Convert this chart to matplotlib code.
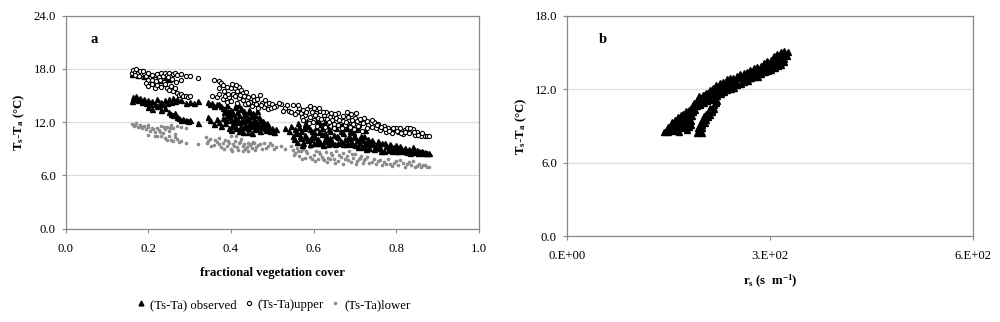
import matplotlib
matplotlib.use('Agg')
import matplotlib.pyplot as plt

plt.rcParams['font.family'] = ['Liberation Serif', 'DejaVu Serif']
plt.rcParams['mathtext.fontset'] = 'custom'
plt.rcParams['mathtext.rm'] = 'Liberation Serif'
plt.rcParams['mathtext.bf'] = 'Liberation Serif:bold'
plt.rcParams['mathtext.it'] = 'Liberation Serif:italic'

# panel a: (Ts-Ta) observed against fractional vegetation cover
obs = [(0.160, 17.4), (0.165, 17.6), (0.170, 17.5), (0.175, 17.3), (0.180, 17.6), (0.190, 17.2), (0.200, 17.0),
       (0.205, 17.3), (0.210, 16.9), (0.220, 17.1), (0.230, 16.8), (0.240, 17.0), (0.250, 16.9),
       (0.160, 14.4), (0.163, 14.8), (0.167, 14.6), (0.170, 14.9), (0.175, 14.5), (0.180, 14.7), (0.185, 14.3),
       (0.190, 14.6), (0.195, 14.2), (0.200, 14.5), (0.205, 14.0), (0.210, 14.4), (0.215, 14.1), (0.220, 14.6),
       (0.225, 13.9), (0.230, 14.3), (0.235, 14.0), (0.240, 14.5), (0.245, 14.2), (0.250, 14.6), (0.255, 14.3),
       (0.260, 14.7), (0.265, 14.4), (0.270, 14.6), (0.280, 14.5), (0.290, 14.2), (0.300, 14.3), (0.310, 14.2),
       (0.320, 14.4),
       (0.200, 13.7), (0.210, 13.5), (0.220, 13.8), (0.230, 13.4), (0.240, 13.6), (0.250, 13.1), (0.255, 12.9),
       (0.260, 12.8), (0.265, 13.0), (0.270, 12.6), (0.275, 12.5), (0.280, 12.3), (0.285, 12.4), (0.290, 12.2),
       (0.295, 12.1), (0.300, 12.2), (0.320, 11.9),
       (0.345, 14.3), (0.350, 14.0), (0.360, 13.8), (0.370, 14.1), (0.380, 13.6), (0.390, 13.9), (0.400, 13.4),
       (0.410, 13.7), (0.345, 12.6), (0.350, 12.2), (0.360, 11.8), (0.365, 12.4), (0.370, 12.0), (0.375, 11.6),
       (0.380, 12.5), (0.385, 11.9), (0.390, 12.8), (0.395, 11.4), (0.400, 12.2), (0.400, 11.1), (0.405, 12.9),
       (0.410, 11.6), (0.410, 12.5), (0.415, 13.2), (0.420, 11.0), (0.420, 12.0), (0.420, 12.8), (0.425, 11.5),
       (0.425, 13.5), (0.430, 12.3), (0.430, 10.9), (0.435, 11.8), (0.435, 12.9), (0.440, 11.3), (0.440, 12.5),
       (0.445, 12.0), (0.445, 13.1), (0.450, 11.6), (0.450, 10.8), (0.455, 12.4), (0.460, 11.2), (0.460, 12.0),
       (0.465, 11.7), (0.470, 11.0), (0.470, 12.3), (0.475, 11.5), (0.480, 11.8), (0.485, 11.1), (0.490, 11.6),
       (0.495, 11.0), (0.500, 11.4), (0.505, 10.9), (0.510, 11.2),
       (0.355, 14.2), (0.365, 14.0), (0.375, 13.8), (0.385, 13.5), (0.395, 13.2),
       (0.382, 13.1), (0.387, 12.2), (0.392, 13.3), (0.397, 12.6), (0.402, 11.7), (0.403, 13.0), (0.407, 12.0),
       (0.412, 13.9), (0.413, 11.3), (0.417, 12.3), (0.418, 14.1), (0.422, 11.4), (0.423, 13.6), (0.427, 12.1),
       (0.428, 12.6), (0.432, 13.3), (0.433, 11.5), (0.437, 12.3), (0.438, 14.2), (0.442, 10.9), (0.443, 13.4),
       (0.447, 11.7), (0.448, 12.7), (0.452, 13.0), (0.453, 11.9), (0.457, 11.4), (0.458, 12.8), (0.462, 11.6),
       (0.463, 13.3), (0.467, 12.6), (0.472, 11.7), (0.477, 12.1), (0.482, 11.3), (0.487, 11.9), (0.492, 11.3),
       (0.530, 11.4), (0.540, 11.0), (0.545, 11.6), (0.550, 10.5), (0.555, 11.2), (0.560, 9.8), (0.560, 10.8),
       (0.565, 11.5), (0.570, 10.2), (0.570, 11.0), (0.575, 9.6), (0.580, 10.6), (0.580, 11.8), (0.585, 10.0),
       (0.590, 11.2), (0.590, 9.5), (0.595, 10.4), (0.600, 10.9), (0.600, 9.7), (0.605, 11.5), (0.610, 10.1),
       (0.610, 12.0), (0.615, 9.6), (0.620, 10.7), (0.620, 11.3), (0.625, 9.9), (0.630, 10.5), (0.630, 11.7),
       (0.635, 9.5), (0.640, 10.2), (0.640, 11.0), (0.645, 9.8), (0.650, 10.6), (0.655, 11.4), (0.660, 9.7),
       (0.660, 10.3), (0.665, 11.0), (0.670, 9.5), (0.670, 10.8), (0.675, 10.1), (0.680, 11.3), (0.680, 9.6),
       (0.685, 10.5), (0.690, 9.9), (0.695, 10.9), (0.700, 9.4), (0.700, 10.3), (0.705, 10.0), (0.710, 9.6),
       (0.715, 10.5), (0.720, 9.2), (0.720, 10.0), (0.725, 9.5), (0.730, 9.8), (0.735, 9.1), (0.740, 9.6),
       (0.745, 9.0), (0.750, 9.4),
       (0.552, 10.1), (0.557, 10.9), (0.562, 11.9), (0.567, 10.4), (0.572, 9.4), (0.577, 11.3), (0.582, 10.3),
       (0.587, 11.6), (0.592, 10.1), (0.597, 11.0), (0.602, 10.3), (0.607, 9.6), (0.612, 10.9), (0.617, 11.8),
       (0.622, 9.4), (0.627, 10.8), (0.632, 10.0), (0.637, 11.2), (0.642, 9.7), (0.647, 11.6), (0.652, 9.5),
       (0.657, 10.4), (0.662, 11.8), (0.667, 9.9), (0.672, 11.4), (0.677, 9.5), (0.682, 10.2), (0.687, 11.0),
       (0.692, 9.5), (0.697, 10.5), (0.702, 11.2), (0.707, 9.2), (0.712, 10.2), (0.717, 9.3), (0.722, 10.5),
       (0.727, 9.0), (0.732, 10.1), (0.737, 9.5), (0.742, 10.0), (0.748, 9.2),
       (0.585, 12.1), (0.605, 12.3), (0.625, 12.0), (0.645, 12.2), (0.665, 11.9), (0.685, 11.7), (0.705, 11.5),
       (0.725, 11.1),
       (0.755, 9.9), (0.760, 9.1), (0.765, 9.6), (0.770, 8.8), (0.775, 9.3), (0.780, 8.9), (0.785, 9.5),
       (0.790, 8.7), (0.795, 9.2), (0.800, 9.4), (0.805, 8.8), (0.810, 9.3), (0.815, 8.7), (0.820, 9.1),
       (0.825, 8.6), (0.830, 9.0), (0.835, 8.7), (0.840, 9.2), (0.845, 8.6), (0.850, 8.9), (0.855, 8.7),
       (0.860, 8.6), (0.865, 8.5), (0.870, 8.6), (0.875, 8.5), (0.880, 8.5),
       (0.757, 9.3), (0.762, 8.8), (0.772, 9.6), (0.782, 9.2), (0.792, 9.0), (0.802, 8.7), (0.812, 8.9),
       (0.822, 8.7), (0.832, 8.5), (0.842, 8.9), (0.852, 8.5), (0.862, 8.8), (0.872, 8.5)]

upper = [(0.160, 17.5), (0.163, 17.9), (0.167, 17.7), (0.170, 18.0), (0.175, 17.6), (0.180, 17.8), (0.185, 17.4),
         (0.190, 17.6), (0.195, 17.2), (0.200, 17.5), (0.205, 17.0), (0.210, 17.3), (0.215, 16.9), (0.220, 17.4),
         (0.225, 17.1), (0.230, 17.5), (0.235, 17.2), (0.240, 17.6), (0.245, 17.3), (0.250, 17.5), (0.255, 17.2),
         (0.260, 17.4), (0.265, 17.5), (0.270, 17.3), (0.280, 17.4), (0.290, 17.2), (0.300, 17.2), (0.320, 17.0),
         (0.168, 17.3), (0.178, 17.2), (0.188, 17.8), (0.198, 16.8), (0.208, 16.7), (0.218, 16.6), (0.228, 16.7),
         (0.238, 16.5), (0.248, 17.1), (0.258, 16.9), (0.268, 16.5), (0.278, 16.8),
         (0.195, 16.4), (0.200, 16.1), (0.210, 16.3), (0.215, 15.9), (0.220, 16.2), (0.230, 16.0), (0.240, 16.3),
         (0.245, 15.8), (0.250, 15.6), (0.255, 16.1), (0.260, 15.5), (0.265, 15.9), (0.270, 15.3), (0.275, 15.1),
         (0.280, 15.2), (0.285, 14.9), (0.290, 15.0), (0.295, 14.8), (0.300, 14.9),
         (0.360, 16.8), (0.370, 16.6), (0.375, 16.4), (0.380, 16.2), (0.390, 16.0), (0.400, 15.8), (0.405, 15.2),
         (0.410, 15.9), (0.415, 15.5), (0.420, 16.0), (0.425, 15.6), (0.430, 15.3), (0.355, 15.0), (0.365, 14.8),
         (0.370, 15.2), (0.380, 14.6), (0.385, 15.0), (0.390, 14.3), (0.395, 14.8), (0.400, 14.4), (0.410, 14.9),
         (0.415, 14.2), (0.420, 14.7), (0.430, 14.5), (0.435, 14.0), (0.440, 14.8), (0.445, 14.3), (0.450, 13.8),
         (0.455, 14.5), (0.460, 14.1), (0.465, 13.6), (0.470, 15.1), (0.475, 14.2), (0.480, 13.7), (0.485, 14.0),
         (0.490, 13.5),
         (0.372, 15.8), (0.382, 15.5), (0.392, 15.2), (0.402, 16.3), (0.412, 16.2), (0.422, 15.1), (0.432, 14.9),
         (0.437, 15.4), (0.442, 14.2), (0.452, 14.9), (0.462, 14.6), (0.472, 13.9), (0.482, 14.5), (0.492, 14.2),
         (0.497, 13.6),
         (0.500, 14.1), (0.510, 13.8), (0.520, 14.0), (0.530, 13.6), (0.540, 13.3), (0.550, 13.9), (0.560, 13.2),
         (0.565, 13.6), (0.570, 13.0), (0.575, 13.4), (0.580, 12.8), (0.585, 13.5), (0.590, 12.6), (0.595, 13.2),
         (0.600, 13.6), (0.600, 12.3), (0.605, 13.0), (0.610, 12.5), (0.615, 13.3), (0.620, 12.1), (0.625, 12.8),
         (0.630, 13.1), (0.635, 11.9), (0.640, 12.6), (0.645, 12.2), (0.650, 11.8), (0.655, 12.5), (0.660, 13.0),
         (0.665, 12.0), (0.670, 12.7), (0.675, 11.7), (0.680, 13.1), (0.685, 12.3), (0.690, 12.9), (0.695, 11.8),
         (0.700, 12.5), (0.705, 12.1), (0.710, 11.6), (0.715, 12.2), (0.720, 11.9), (0.730, 12.1), (0.740, 11.5),
         (0.745, 12.0), (0.750, 11.3), (0.755, 11.8), (0.760, 11.1), (0.770, 11.6), (0.775, 10.9), (0.780, 11.3),
         (0.790, 10.8), (0.795, 11.2), (0.800, 11.4), (0.805, 10.9), (0.810, 11.3), (0.815, 10.7), (0.820, 11.1),
         (0.825, 11.4), (0.830, 10.8), (0.840, 11.2), (0.845, 10.6), (0.850, 10.9), (0.860, 10.5), (0.870, 10.4),
         (0.875, 10.5), (0.880, 10.4),
         (0.505, 13.7), (0.515, 14.2), (0.525, 13.3), (0.535, 13.9), (0.545, 13.1), (0.555, 12.9), (0.562, 13.9),
         (0.572, 12.6), (0.582, 13.2), (0.592, 13.8), (0.602, 12.8), (0.612, 13.6), (0.622, 13.2), (0.632, 12.4),
         (0.642, 13.0), (0.652, 12.9), (0.662, 12.3), (0.672, 12.1), (0.682, 12.6), (0.692, 12.2), (0.702, 13.0),
         (0.712, 12.4), (0.722, 12.5), (0.732, 11.7), (0.742, 12.2), (0.752, 11.7), (0.762, 11.5), (0.772, 11.2),
         (0.782, 11.0), (0.792, 11.4), (0.802, 11.0), (0.812, 10.8), (0.822, 10.9), (0.832, 11.3), (0.842, 10.9),
         (0.852, 10.6), (0.862, 10.8),
         (0.575, 12.2), (0.588, 11.9), (0.598, 12.0), (0.608, 11.6), (0.618, 12.4), (0.628, 11.5), (0.638, 12.0),
         (0.648, 11.4), (0.658, 11.7), (0.668, 11.3), (0.678, 12.0), (0.688, 11.5), (0.698, 11.2), (0.708, 11.6),
         (0.718, 11.0), (0.728, 11.4)]

lower = [(0.160, 11.8), (0.165, 11.6), (0.170, 11.9), (0.175, 11.5), (0.180, 11.7), (0.185, 11.4), (0.190, 11.6),
         (0.195, 11.2), (0.200, 11.5), (0.205, 11.0), (0.210, 11.3), (0.215, 10.9), (0.220, 11.4), (0.225, 11.1),
         (0.230, 11.6), (0.235, 10.8), (0.240, 11.2), (0.245, 11.5), (0.250, 11.0), (0.255, 11.7), (0.260, 11.3),
         (0.270, 11.6), (0.280, 11.5), (0.290, 11.4),
         (0.168, 11.7), (0.182, 11.5), (0.198, 11.7), (0.212, 11.2), (0.228, 10.9), (0.238, 11.5), (0.252, 11.3),
         (0.265, 10.7), (0.215, 10.5), (0.245, 10.0), (0.265, 10.3),
         (0.200, 10.6), (0.220, 10.4), (0.230, 10.5), (0.240, 10.2), (0.250, 10.4), (0.255, 10.0), (0.260, 9.9),
         (0.270, 10.1), (0.275, 9.8), (0.280, 9.9), (0.290, 9.6), (0.320, 9.5),
         (0.340, 10.3), (0.345, 9.9), (0.350, 10.1), (0.360, 9.4), (0.365, 9.8), (0.370, 10.2), (0.375, 9.2),
         (0.380, 9.6), (0.385, 10.0), (0.390, 9.3), (0.395, 9.7), (0.400, 10.4), (0.400, 9.0), (0.405, 9.5),
         (0.410, 9.9), (0.415, 9.2), (0.420, 9.6), (0.425, 10.1), (0.430, 9.3), (0.435, 9.0), (0.440, 9.7),
         (0.445, 9.4), (0.450, 9.1), (0.455, 9.6), (0.460, 9.2), (0.470, 9.5), (0.475, 9.0), (0.480, 9.6),
         (0.490, 9.3), (0.500, 9.4), (0.510, 9.2), (0.520, 9.3), (0.530, 9.0),
         (0.342, 9.6), (0.352, 9.3), (0.362, 10.0), (0.372, 9.5), (0.382, 9.0), (0.392, 9.9), (0.402, 8.8),
         (0.407, 9.3), (0.412, 10.5), (0.418, 8.9), (0.422, 9.8), (0.428, 8.7), (0.432, 9.5), (0.438, 9.2),
         (0.442, 8.8), (0.448, 9.5), (0.452, 9.8), (0.458, 8.9), (0.465, 9.4), (0.485, 9.1), (0.495, 9.6),
         (0.505, 9.0),
         (0.545, 9.3), (0.550, 8.9), (0.555, 8.5), (0.560, 9.1), (0.565, 8.2), (0.570, 8.7), (0.575, 9.0),
         (0.580, 8.0), (0.585, 8.5), (0.590, 9.2), (0.595, 7.8), (0.600, 8.3), (0.605, 8.8), (0.610, 7.9),
         (0.615, 8.4), (0.620, 8.1), (0.625, 7.7), (0.630, 8.6), (0.635, 8.0), (0.640, 7.8), (0.645, 8.3),
         (0.650, 7.9), (0.655, 8.7), (0.660, 7.6), (0.665, 8.1), (0.670, 8.5), (0.675, 7.8), (0.680, 8.2),
         (0.685, 8.8), (0.690, 7.5), (0.695, 8.0), (0.700, 8.4), (0.705, 7.6), (0.710, 7.9), (0.715, 8.2),
         (0.720, 7.4), (0.725, 7.8), (0.730, 8.1), (0.740, 7.5), (0.745, 7.9), (0.750, 7.3), (0.760, 7.7),
         (0.765, 7.2), (0.770, 7.5), (0.780, 7.8), (0.785, 7.3), (0.790, 7.1), (0.800, 7.6), (0.805, 7.2),
         (0.810, 7.7), (0.815, 7.4), (0.820, 7.0), (0.830, 7.5), (0.835, 7.2), (0.840, 7.6), (0.850, 7.1),
         (0.855, 7.3), (0.860, 7.0), (0.870, 7.2), (0.875, 6.9), (0.880, 7.0),
         (0.552, 8.3), (0.562, 8.7), (0.572, 7.9), (0.582, 8.8), (0.592, 8.1), (0.602, 7.6), (0.612, 8.6),
         (0.622, 7.8), (0.632, 7.5), (0.642, 8.5), (0.652, 7.4), (0.662, 8.3), (0.672, 7.3), (0.682, 7.7),
         (0.692, 8.4), (0.702, 7.3), (0.712, 8.0), (0.722, 7.7), (0.735, 7.4), (0.755, 7.6), (0.775, 7.3),
         (0.795, 7.4), (0.825, 7.3), (0.845, 7.0), (0.865, 7.2)]

# panel b: (Ts-Ta) against surface resistance rs
rs_pts = [(143, 8.5), (147, 8.6), (150, 8.9), (152, 8.7), (154, 9.1), (156, 9.3), (158, 9.0), (160, 9.5),
          (162, 9.2), (164, 9.7), (166, 9.4), (168, 9.9), (170, 9.6), (172, 10.0), (174, 9.7), (176, 10.2),
          (178, 9.9), (180, 10.3), (182, 10.0), (184, 10.5), (186, 10.7), (188, 10.9), (187, 10.4), (190, 10.6),
          (158, 8.6), (162, 8.8), (166, 8.5), (168, 8.9), (170, 9.1), (173, 8.8), (176, 9.3), (178, 9.1),
          (180, 9.6), (183, 9.4), (185, 9.8), (150, 8.5), (155, 8.7), (163, 9.0), (172, 9.4), (177, 8.7),
          (181, 8.9), (184, 9.1), (186, 10.1), (189, 10.3),
          (193, 8.4), (196, 8.5), (199, 8.4), (194, 8.8), (197, 9.0), (200, 8.8), (198, 9.3), (201, 9.5),
          (204, 9.2), (203, 9.8), (206, 10.0), (208, 9.7), (210, 10.2), (212, 10.5), (214, 10.3), (217, 10.7),
          (220, 10.9), (222, 11.0), (196, 8.8), (200, 9.1), (205, 9.5), (211, 9.9), (215, 10.1), (218, 10.4),
          (190, 10.9), (193, 11.1), (196, 10.8), (198, 11.3), (200, 11.0), (203, 11.5), (206, 11.2), (208, 11.7),
          (211, 11.4), (214, 11.9), (216, 11.5), (219, 12.0), (222, 11.7), (225, 12.2), (228, 11.9), (231, 12.3),
          (234, 12.0), (237, 12.5), (240, 12.2), (243, 12.6), (246, 12.4), (249, 12.7), (252, 12.5), (255, 12.9),
          (258, 12.6), (261, 13.0), (264, 12.8), (267, 13.1), (270, 12.9), (273, 13.3), (276, 13.1), (279, 13.4),
          (282, 13.3), (285, 13.6), (288, 13.4), (291, 13.8), (294, 13.6), (297, 14.0), (300, 13.7), (303, 14.2),
          (305, 13.9), (308, 14.4), (310, 14.1), (313, 14.6), (315, 14.3), (318, 14.7), (320, 14.5), (323, 14.8),
          (325, 14.7), (327, 15.0),
          (192, 10.6), (197, 10.7), (202, 10.9), (207, 11.0), (212, 11.1), (217, 11.2), (222, 11.4), (227, 11.6),
          (232, 11.8), (237, 11.9), (242, 12.0), (247, 12.1), (252, 12.3), (257, 12.4), (262, 12.6), (267, 12.7),
          (272, 12.9), (277, 13.0), (282, 13.0), (287, 13.2), (292, 13.4), (297, 13.5), (302, 13.6), (307, 13.7),
          (312, 13.9), (316, 14.0), (320, 14.2),
          (195, 11.4), (201, 11.5), (206, 11.7), (211, 11.9), (216, 12.1), (221, 12.3), (226, 12.5), (231, 12.6),
          (236, 12.8), (241, 12.9), (246, 12.9), (251, 13.1), (256, 13.2), (261, 13.3), (266, 13.4), (271, 13.6),
          (276, 13.7), (281, 13.8), (286, 13.9), (291, 14.1), (296, 14.3), (301, 14.4), (306, 14.7), (311, 14.9),
          (316, 15.0), (321, 15.1)]

a_yticks = [0, 6, 12, 18, 24]
a_xticks = [0, 0.2, 0.4, 0.6, 0.8, 1.0]
b_yticks = [0, 6, 12, 18]
b_xticks = [0, 300, 600]
b_xlabels = ['0.E+00', '3.E+02', '6.E+02']

fs = 9.2
fig = plt.figure(figsize=(10, 3.22), dpi=100)
ax1 = fig.add_axes([0.0657, 0.2898, 0.4133, 0.6614])
ax2 = fig.add_axes([0.5667, 0.267, 0.4066, 0.6842])

def style(ax):
    for s in ax.spines.values():
        s.set_color('#888888')
        s.set_linewidth(0.9)
    ax.tick_params(direction='out', length=3, width=0.8, color='#888888', labelsize=fs)
    ax.tick_params(axis='x', pad=7)
    ax.tick_params(axis='y', pad=4)
    ax.grid(axis='y', color='#dddddd', linewidth=0.9)
    ax.set_axisbelow(True)

ax1.plot([p[0] for p in lower], [p[1] for p in lower], ls='none', marker='o', ms=1.6, color='#8c8c8c', mec='#8c8c8c')
ax1.plot([p[0] for p in obs], [p[1] for p in obs], ls='none', marker='^', ms=3.6, color='black')
ax1.plot([p[0] for p in upper], [p[1] for p in upper], ls='none', marker='o', ms=3.0, mfc='white', mec='black', mew=0.8)
ax1.set_xlim(0, 1)
ax1.set_ylim(0, 24)
ax1.set_xticks(a_xticks)
ax1.set_xticklabels(['%.1f' % v for v in a_xticks])
ax1.set_yticks(a_yticks)
ax1.set_yticklabels(['%.1f' % v for v in a_yticks])
ax1.set_xlabel('fractional vegetation cover', fontsize=fs, fontweight='bold', labelpad=9)
ax1.set_ylabel(r'$\mathbf{T_s}$-$\mathbf{T_a}$ (°C)', fontsize=fs, fontweight='bold', labelpad=5)
ax1.text(0.06, 0.89, 'a', transform=ax1.transAxes, fontsize=10.5, fontweight='bold', va='center')
style(ax1)

ax2.plot([p[0] for p in rs_pts], [p[1] for p in rs_pts], ls='none', marker='^', ms=4.2, color='black')
ax2.set_xlim(0, 600)
ax2.set_ylim(0, 18)
ax2.set_xticks(b_xticks)
ax2.set_xticklabels(b_xlabels)
ax2.set_yticks(b_yticks)
ax2.set_yticklabels(['%.1f' % v for v in b_yticks])
ax2.set_xlabel(r'$\mathbf{r_s}$ (s  m$^{\mathbf{-1}}$)', fontsize=fs, fontweight='bold', labelpad=8)
ax2.set_ylabel(r'$\mathbf{T_s}$-$\mathbf{T_a}$ (°C)', fontsize=fs, fontweight='bold', labelpad=4)
ax2.text(0.08, 0.893, 'b', transform=ax2.transAxes, fontsize=10.5, fontweight='bold', va='center')
style(ax2)

h1, = plt.plot([], [], ls='none', marker='^', ms=3.5, color='black')
h2, = plt.plot([], [], ls='none', marker='o', ms=3, mfc='white', mec='black', mew=0.8)
h3, = plt.plot([], [], ls='none', marker='o', ms=1.5, color='#8c8c8c')
fig.legend([h1, h2, h3], ['(Ts-Ta) observed', '(Ts-Ta)upper', '(Ts-Ta)lower'],
           loc='center', bbox_to_anchor=(0.274, 0.053), ncol=3, frameon=False, fontsize=fs,
           handlelength=0.6, handletextpad=0.4, columnspacing=0.6)

fig.savefig('out.png', dpi=100)
